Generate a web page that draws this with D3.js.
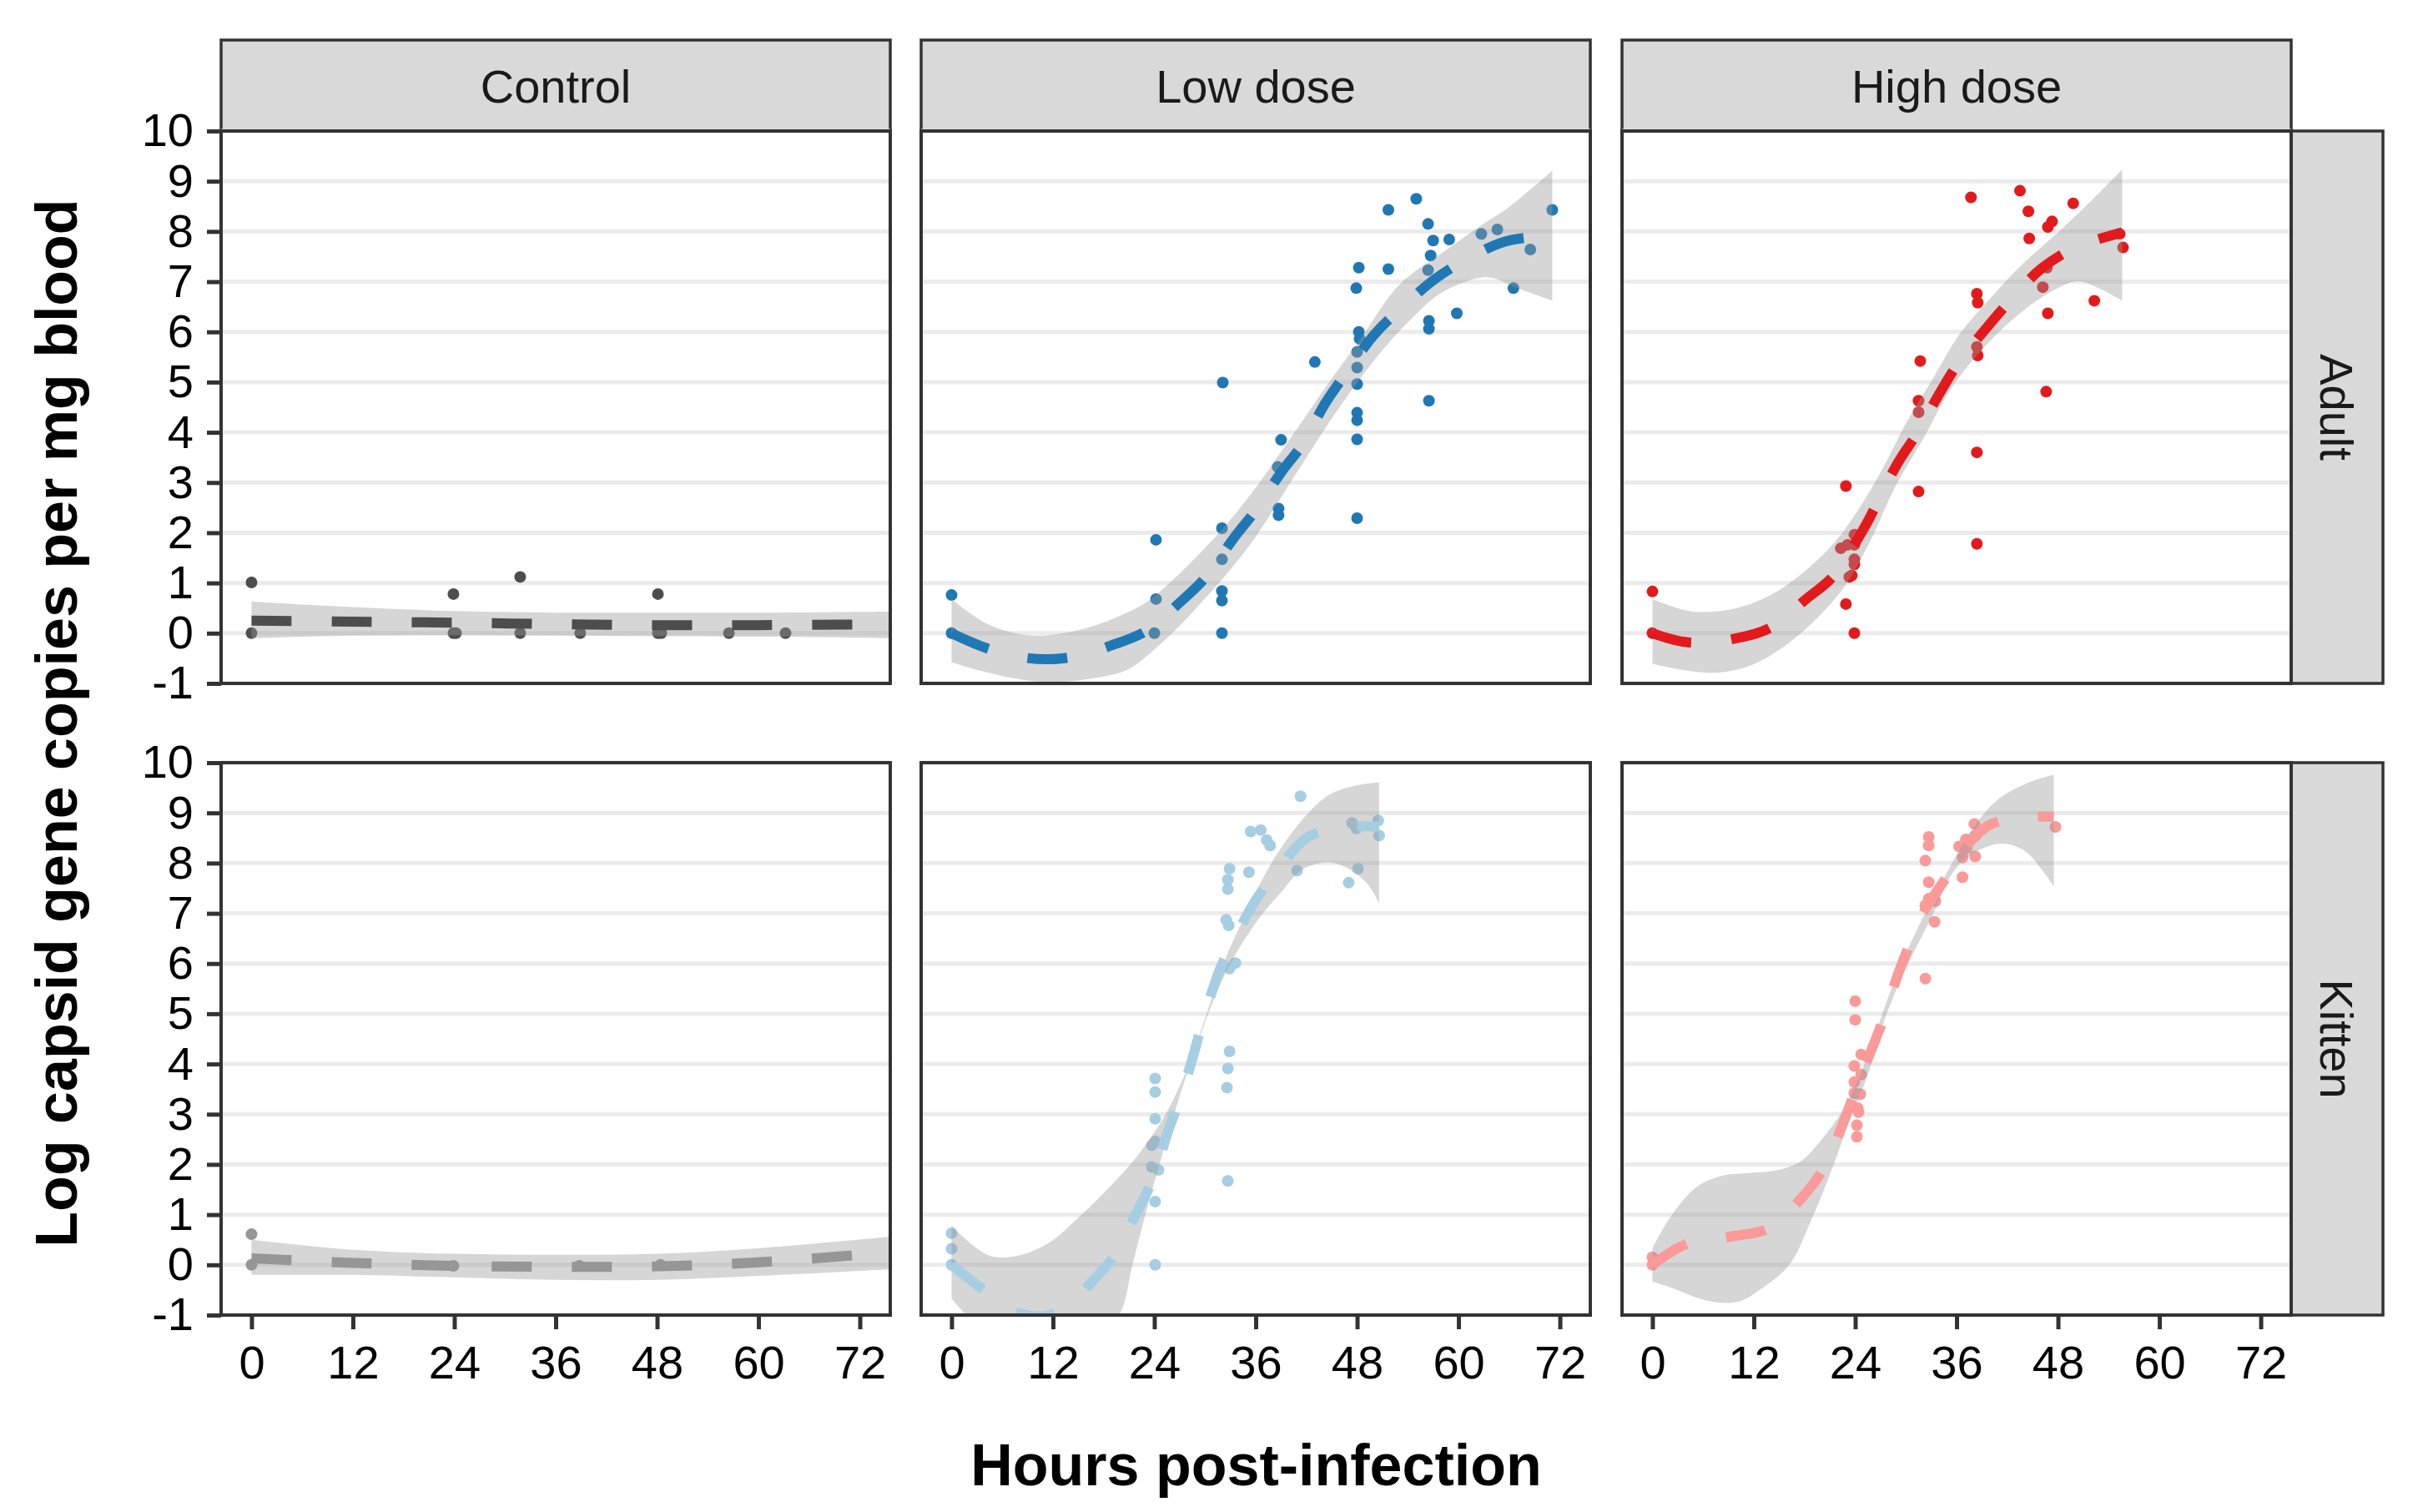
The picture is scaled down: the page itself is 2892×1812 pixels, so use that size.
<!DOCTYPE html>
<html>
<head>
<meta charset="utf-8">
<script src="https://cdn.jsdelivr.net/npm/d3@7"></script>
<style>
body { margin: 0; background: #fff; }
svg { display: block; }
text { font-family: "Liberation Sans", Arial, sans-serif; }
</style>
</head>
<body>
<script>
// facets and ticks
var doses = ["Control", "Low dose", "High dose"];
var ages = ["Adult", "Kitten"];
var hourTicks = [0, 12, 24, 36, 48, 60, 72];
var logTicks = [-1, 0, 1, 2, 3, 4, 5, 6, 7, 8, 9, 10];

// points [hours, log copies]
var adultControlPts = [[0,1.01],[0,0],[23.9,0.78],[23.9,0],[24.2,0],[31.8,1.12],[31.8,0],[38.9,0],[48.1,0.78],[48.1,0],[48.5,0],[56.5,0],[63.2,0]];
var adultLowPts = [[0,0.76],[0,0],[24.2,1.86],[24.2,0.68],[24,0],[32.1,4.99],[32,2.09],[32,1.47],[32,0.84],[32,0.65],[32,0],
  [39,3.85],[38.6,3.31],[38.7,2.48],[38.7,2.35],[43,5.4],[48.2,7.28],[47.9,6.87],[48.2,6.0],[48.3,5.86],[48,5.6],[48,5.29],
  [48,4.96],[48,4.39],[48,4.24],[48,3.86],[48,2.29],[51.7,8.43],[51.7,7.25],[55,8.65],[56.4,8.15],[57,7.82],[58.9,7.84],
  [56.7,7.52],[56.4,7.23],[56.5,6.22],[56.5,6.06],[59.8,6.37],[56.5,4.63],[62.7,7.95],[64.6,8.04],[68.5,7.64],[66.5,6.87],[71.1,8.43]];
var adultHighPts = [[0,0.83],[0,0],[22.9,2.93],[22.9,0.58],[23.9,0],[22.3,1.69],[23.1,1.76],[23.9,1.76],[23.9,1.96],[23.9,1.47],
  [23.9,1.37],[23.6,1.15],[23.3,1.12],[31.5,4.63],[31.5,4.4],[31.7,5.42],[31.5,2.82],[38.4,6.76],[38.5,6.58],[38.4,3.6],
  [38.4,1.78],[38.4,5.7],[38.5,5.53],[37.7,8.68],[43.5,8.81],[44.5,8.4],[44.6,7.86],[46.8,8.09],[47.3,8.2],[49.8,8.56],
  [46.7,7.28],[46.2,6.89],[46.8,6.37],[46.6,4.81],[52.3,6.62],[55.3,7.95],[55.7,7.68]];
var kittenControlPts = [[0,0.61],[0,0],[23.9,-0.02],[38.8,-0.02],[48.4,0]];
var kittenLowPts = [[0,0.63],[0,0.32],[0,0],[24.1,3.71],[24.1,3.44],[24.1,2.91],[23.7,2.38],[24.1,2.46],[23.7,1.95],[24.5,1.89],
  [24.1,1.26],[24.1,0],[32.9,7.89],[32.7,7.67],[32.7,7.48],[32.5,6.87],[32.8,6.76],[33.6,6.01],[32.9,5.9],[32.9,4.25],
  [32.7,3.91],[32.6,3.53],[32.7,1.67],[35.2,7.82],[35.4,8.63],[36.6,8.66],[37.3,8.46],[37.7,8.35],[41.3,9.33],[40.9,7.85],
  [47.4,8.8],[47.9,8.69],[48.1,7.89],[47,7.61],[50.5,8.85],[50.6,8.55]];
var kittenHighPts = [[0,0.15],[0,0],[24,5.25],[24,4.88],[24.7,4.19],[23.9,3.96],[24.7,3.79],[23.9,3.64],[23.9,3.42],[24.6,3.4],
  [24.3,3.12],[24.4,3.04],[24.2,2.78],[24.2,2.55],[32.7,8.52],[32.7,8.35],[32.3,8.05],[32.7,7.62],[32.7,7.29],[32.3,7.16],
  [33.5,7.24],[33.4,6.83],[32.3,5.7],[38.1,8.78],[38.2,8.54],[37.1,8.47],[36.3,8.33],[37.2,8.3],[36.7,8.11],[38.2,8.13],
  [36.7,7.72],[47.7,8.72]];

// smooth fit and band edges [hours, log copies]
var adultControlFit = [[0,0.25],[12,0.23],[24,0.21],[36,0.18],[48,0.16],[60,0.16],[76,0.18]];
var adultControlHi = [[0,0.63],[12,0.52],[24,0.44],[36,0.41],[48,0.41],[60,0.41],[76,0.43]];
var adultControlLo = [[0,-0.1],[12,-0.05],[24,-0.04],[36,-0.05],[48,-0.06],[60,-0.07],[76,-0.1]];

var adultLowFit = [[0,0],[4,-0.29],[8,-0.47],[11.3,-0.52],[15,-0.45],[18.8,-0.25],[23,0.04],[27,0.61],[30,1.1],[33.3,1.87],
  [36,2.45],[39,3.2],[41.6,3.78],[44.2,4.57],[46.8,5.2],[50,5.94],[53,6.44],[57.2,7.05],[60.6,7.41],[65.5,7.8],[71.1,7.92]];
var adultLowHi = [[0,0.68],[4.3,0.18],[8.9,-0.04],[12.5,-0.02],[16.7,0.14],[20,0.35],[23,0.61],[27,1.19],[32.3,2.12],
  [36.4,2.99],[40.6,4.0],[45.3,5.14],[48.4,5.86],[53,6.94],[58.2,7.59],[62.4,8.09],[66,8.49],[71.1,9.21]];
var adultLowLo = [[0,-0.58],[3.7,-0.76],[8.9,-0.94],[12.5,-0.97],[16.7,-0.9],[20.9,-0.72],[24.5,-0.25],[29.2,0.54],[35,1.69],
  [40.6,3.13],[45.3,4.35],[50,5.43],[54.6,6.29],[58.2,6.8],[63.4,7.09],[67,6.87],[71.1,6.62]];

var adultHighFit = [[0,0],[4.2,-0.18],[9.7,-0.11],[14,0.11],[18.2,0.68],[21.3,1.12],[24.9,2.05],[29,3.38],[31.4,4.0],[34,4.78],
  [36.3,5.4],[39.9,6.15],[42.5,6.65],[46.1,7.27],[50.3,7.7],[55.6,7.98]];
var adultHighHi = [[0,0.68],[4.8,0.43],[10,0.5],[14,0.76],[17.7,1.19],[21.3,1.76],[23.9,2.34],[27,3.2],[30.1,4.21],[33.2,5.07],
  [36.3,5.94],[39.9,6.65],[43.5,7.3],[48.7,8.09],[52.3,8.67],[55.6,9.23]];
var adultHighLo = [[0,-0.61],[3.2,-0.72],[7.3,-0.79],[11.5,-0.65],[15.1,-0.32],[19.2,0.25],[22.9,0.97],[26,1.91],[28.5,2.84],
  [32.2,3.92],[35.3,4.86],[39.4,5.72],[43.5,6.37],[47.2,6.8],[50.3,7.01],[52.8,6.87],[55.6,6.62]];

var kittenControlFit = [[0,0.13],[12,0.04],[24,-0.02],[36,-0.04],[48,-0.03],[60,0.05],[72,0.2],[76,0.25]];
var kittenControlHi = [[0,0.5],[12,0.3],[24,0.22],[36,0.2],[48,0.22],[60,0.33],[76,0.57]];
var kittenControlLo = [[0,-0.2],[12,-0.2],[24,-0.25],[36,-0.3],[48,-0.3],[60,-0.22],[72,-0.12],[76,-0.08]];

var kittenLowFit = [[0,0],[3.4,-0.45],[7,-0.9],[11,-1.02],[14,-0.8],[16.8,-0.3],[19.3,0.19],[21.9,1.04],[24,1.78],[25.5,2.6],
  [27.1,3.34],[28.6,4.16],[29.7,4.83],[31.7,5.86],[33.3,6.42],[35.9,7.24],[38.4,7.8],[42,8.5],[46.2,8.72],[50.6,8.72]];
var kittenLowHi = [[0,0.78],[4.4,0.19],[8,0.19],[11.6,0.45],[15.2,0.97],[18.3,1.48],[21.9,2.15],[25,2.9],[27.6,3.79],
  [29.7,4.75],[32.2,6.01],[34.8,6.98],[37.4,7.87],[41,8.76],[44.6,9.35],[47.7,9.54],[50.6,9.61]];
var kittenLowLo = [[0,-0.67],[2,-1.05],[5,-1.6],[9,-1.9],[13,-1.8],[17,-1.4],[19.9,-0.97],[21.4,0],[23,1.04],[25,2.23],
  [27.1,3.41],[29.2,4.45],[31.2,5.35],[33.3,6.09],[36.4,6.9],[39,7.42],[41.5,7.87],[44.6,8.02],[47.2,7.87],[49.3,7.57],[50.6,7.2]];

var kittenHighFit = [[0,0],[4,0.41],[9.2,0.56],[13.9,0.74],[17.7,1.34],[20.3,1.93],[22.4,2.75],[24.4,3.64],[27,4.75],[29.4,5.94],
  [32.2,7.05],[34.8,7.72],[37.4,8.39],[39.9,8.76],[43.3,8.91],[47.5,8.92]];
var kittenHighHi = [[0,0.33],[2.2,0.97],[5.3,1.56],[8.4,1.78],[11.5,1.83],[14.9,1.89],[17.7,2.08],[19.8,2.45],[22.4,3.04],
  [24.4,3.71],[27,4.9],[29.1,5.86],[32.2,6.98],[34.8,7.8],[37.9,8.69],[41,9.28],[44.6,9.61],[47.5,9.76]];
var kittenHighLo = [[0,-0.33],[2.2,-0.45],[6.4,-0.71],[10,-0.74],[13.1,-0.45],[16.2,0],[18.8,0.89],[21.3,1.93],[23.4,2.9],
  [25.5,3.79],[27.5,4.9],[30.1,5.94],[33.2,6.98],[35.8,7.87],[38.4,8.24],[41.5,8.39],[44.1,8.24],[46.1,7.87],[47.5,7.54]];

var panels = [
  {row: 0, col: 0, pts: adultControlPts, fit: adultControlFit, hi: adultControlHi, lo: adultControlLo, colour: "#4d4d4d"},
  {row: 0, col: 1, pts: adultLowPts, fit: adultLowFit, hi: adultLowHi, lo: adultLowLo, colour: "#1f78b4"},
  {row: 0, col: 2, pts: adultHighPts, fit: adultHighFit, hi: adultHighHi, lo: adultHighLo, colour: "#e31a1c"},
  {row: 1, col: 0, pts: kittenControlPts, fit: kittenControlFit, hi: kittenControlHi, lo: kittenControlLo, colour: "#969696"},
  {row: 1, col: 1, pts: kittenLowPts, fit: kittenLowFit, hi: kittenLowHi, lo: kittenLowLo, colour: "#a6cee3"},
  {row: 1, col: 2, pts: kittenHighPts, fit: kittenHighFit, hi: kittenHighHi, lo: kittenHighLo, colour: "#fb9a99"}
];

var svg = d3.select("body")
    .append("svg")
    .attr("width", 2892)
    .attr("height", 1812);

var panelW = 802, panelH = 662;
var colLeft = [265, 1104, 1944];
var rowTop = [157, 914];
var stripTop = 48, stripH = 109, stripW = 110;

var x = d3.scaleLinear().domain([-3.6, 75.6]).range([0, panelW]);
var y = d3.scaleLinear().domain([-1, 10]).range([panelH, 0]);

var line = d3.line()
    .x(function(d) { return x(d[0]); })
    .y(function(d) { return y(d[1]); })
    .curve(d3.curveCatmullRom.alpha(0.5));

// top strips
doses.forEach(function(dose, i) {
    svg.append("rect")
        .attr("x", colLeft[i]).attr("y", stripTop)
        .attr("width", panelW).attr("height", stripH)
        .attr("fill", "#d9d9d9").attr("stroke", "#333").attr("stroke-width", 3.5);
    svg.append("text")
        .attr("x", colLeft[i] + panelW / 2).attr("y", stripTop + stripH / 2 + 20)
        .attr("text-anchor", "middle")
        .attr("font-size", 56).attr("fill", "#1a1a1a")
        .text(dose);
});

// right strips
ages.forEach(function(age, j) {
    var sx = colLeft[2] + panelW;
    svg.append("rect")
        .attr("x", sx).attr("y", rowTop[j])
        .attr("width", stripW).attr("height", panelH)
        .attr("fill", "#d9d9d9").attr("stroke", "#333").attr("stroke-width", 3.5);
    svg.append("text")
        .attr("transform", "translate(" + (sx + stripW / 2 - 20) + "," + (rowTop[j] + panelH / 2) + ") rotate(90)")
        .attr("text-anchor", "middle")
        .attr("font-size", 56).attr("fill", "#1a1a1a")
        .text(age);
});

panels.forEach(function(p, k) {
    var g = svg.append("g")
        .attr("transform", "translate(" + colLeft[p.col] + "," + rowTop[p.row] + ")");

    g.append("clipPath").attr("id", "clip" + k)
        .append("rect").attr("width", panelW).attr("height", panelH);

    g.append("rect").attr("width", panelW).attr("height", panelH).attr("fill", "#fff");

    g.selectAll("line.grid")
        .data(logTicks)
        .enter()
        .append("line")
        .attr("class", "grid")
        .attr("x1", 0).attr("x2", panelW)
        .attr("y1", function(d) { return y(d); })
        .attr("y2", function(d) { return y(d); })
        .attr("stroke", "#ebebeb").attr("stroke-width", 5);

    var plot = g.append("g").attr("clip-path", "url(#clip" + k + ")");

    plot.selectAll("circle")
        .data(p.pts)
        .enter()
        .append("circle")
        .attr("cx", function(d) { return x(d[0]); })
        .attr("cy", function(d) { return y(d[1]); })
        .attr("r", 7)
        .attr("fill", p.colour);

    // ribbon: upper edge then lower edge back
    var band = line(p.hi) + "L" + line(p.lo.slice().reverse()).slice(1) + "Z";
    plot.append("path")
        .attr("d", band)
        .attr("fill", "#999999").attr("fill-opacity", 0.4);

    plot.append("path")
        .attr("d", line(p.fit))
        .attr("fill", "none")
        .attr("stroke", p.colour).attr("stroke-width", 12)
        .attr("stroke-dasharray", "48,48");

    g.append("rect").attr("width", panelW).attr("height", panelH)
        .attr("fill", "none").attr("stroke", "#333").attr("stroke-width", 4);

    if (p.col === 0) {
        var ya = g.append("g").call(d3.axisLeft(y)
            .tickValues(logTicks).tickSize(17).tickPadding(16)
            .tickFormat(function(d) { return String(d); }));
        ya.select(".domain").remove();
        ya.selectAll(".tick line").attr("stroke", "#333").attr("stroke-width", 5);
        ya.selectAll(".tick text").attr("font-size", 56).attr("fill", "#000")
            .attr("font-family", "Liberation Sans, Arial, sans-serif");
    }
    if (p.row === 1) {
        var xa = g.append("g").attr("transform", "translate(0," + panelH + ")")
            .call(d3.axisBottom(x).tickValues(hourTicks).tickSize(17).tickPadding(19));
        xa.select(".domain").remove();
        xa.selectAll(".tick line").attr("stroke", "#333").attr("stroke-width", 5);
        xa.selectAll(".tick text").attr("font-size", 56).attr("fill", "#000")
            .attr("font-family", "Liberation Sans, Arial, sans-serif");
    }
});

// axis titles
svg.append("text")
    .attr("x", (colLeft[0] + colLeft[2] + panelW) / 2).attr("y", 1780)
    .attr("text-anchor", "middle")
    .attr("font-size", 70).attr("font-weight", "bold")
    .text("Hours post-infection");

svg.append("text")
    .attr("transform", "translate(92," + (rowTop[0] + (rowTop[1] + panelH - rowTop[0]) / 2) + ") rotate(-90)")
    .attr("text-anchor", "middle")
    .attr("font-size", 70).attr("font-weight", "bold")
    .text("Log capsid gene copies per mg blood");
</script>
</body>
</html>
